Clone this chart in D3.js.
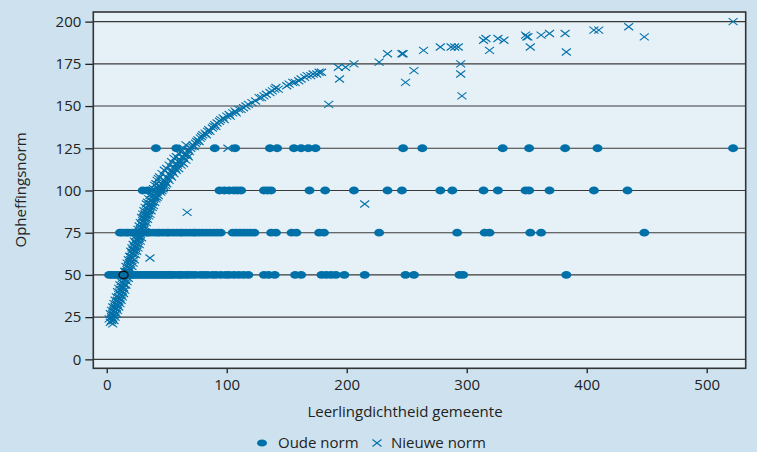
<!DOCTYPE html>
<html>
<head>
<meta charset="utf-8">
<script src="https://cdn.jsdelivr.net/npm/d3@7"></script>
<style>
  body { margin: 0; background: #cde2ee; }
  svg { display: block; font-family: "Open Sans", sans-serif; }
</style>
</head>
<body>
<div id="chart"></div>
<script>
// oude norm: leerlingdichtheid per opheffingsnorm-niveau
const oude50 = [2, 4, 6, 8, 10, 12, 16, 18, 20, 22, 24, 26, 28, 30, 32, 34, 36, 38, 40, 42, 44, 46, 48, 50, 52, 54, 56, 59, 61, 63, 66, 68, 71, 74, 78, 81, 84, 88, 91, 95, 99, 102, 106, 110, 114, 118, 131, 135, 140, 157, 162, 179, 183, 187, 191, 198, 215, 249, 256, 294, 297, 383];
const oude75 = [11, 13, 16, 18, 21, 23, 26, 29, 31, 34, 36, 39, 42, 44, 47, 50, 52, 55, 58, 61, 63, 66, 69, 72, 74, 77, 80, 83, 86, 89, 92, 95, 105, 108, 111, 114, 117, 120, 123, 137, 141, 154, 158, 177, 181, 227, 292, 315, 319, 353, 362, 448];
const oude100 = [30, 34, 45, 94, 98, 102, 106, 109, 112, 131, 134, 137, 169, 182, 206, 234, 246, 278, 288, 314, 326, 349, 352, 369, 406, 434];
const oude125 = [41, 58, 90, 107, 136, 142, 156, 162, 168, 174, 247, 263, 330, 352, 382, 409, 522];

// nieuwe norm: [leerlingdichtheid, opheffingsnorm]
const nieuw = [
  [3,22],[4,23],[4,25],[5,24],[5,27],[6,26],[6,29],[7,28],[7,31],[8,30],[8,33],[9,32],[9,35],[10,34],[10,37],
  [11,36],[11,39],[12,38],[12,41],[13,40],[13,43],[14,45],[14,42],[15,47],[15,44],[16,49],[16,52],[17,50],[17,53],[18,55],[18,52],
  [19,57],[19,54],[20,59],[20,61],[21,60],[21,63],[22,62],[22,65],[23,64],[23,67],[24,69],[24,66],[25,71],[25,68],[26,73],[26,70],[27,75],[27,72],[28,77],[28,74],
  [29,78],[29,80],[30,79],[30,82],[31,81],[31,84],[32,83],[32,86],[33,85],[34,87],[34,89],[35,88],[35,91],[36,90],[37,92],[37,94],[38,93],[39,95],[39,97],[40,96],[41,98],[41,100],[42,99],[43,101],[44,100],[44,103],
  [45,102],[46,104],[47,103],[48,106],[49,105],[50,108],[51,107],[52,110],[53,109],[54,112],[55,111],[56,114],[57,113],[58,116],[59,115],[60,117],[61,118],[62,117],[63,120],[64,119],[65,121],[66,122],[67,121],[68,124],[69,123],[70,125],[71,126],
  [72,127],[73,126],[74,128],[75,129],[76,130],[77,129],[78,131],[79,132],[80,133],[82,134],[83,133],[84,135],[85,136],[86,135],[88,137],[89,138],[90,139],[91,138],[92,140],
  [94,141],[95,142],[97,143],[98,142],[100,144],[102,145],[103,144],[105,146],[107,147],[108,146],[110,148],[112,148],[114,149],[116,150],[118,151],
  [121,152],[124,153],[127,155],[129,155],[131,156],[133,157],[136,158],[138,159],[140,160],[141,161],[143,160],[150,162],[152,163],[155,164],[157,164],[160,165],[162,166],[165,167],[167,168],[170,168],[172,169],[175,169],[177,170],[179,170],
  // rechterrand van de band
  [5,21],[6,23],[7,25],[8,27],[9,29],[10,31],[11,33],[12,35],[13,37],[14,39],[15,41],[16,44],[17,46],[18,48],[19,50],[20,53],[21,55],[22,57],[23,59],[24,62],[25,64],[26,66],[27,68],[28,70],[29,72],[30,75],[31,77],[32,79],[33,81],[34,83],[35,85],[36,86],[37,88],[38,90],[39,91],[40,93],[41,95],[42,96],[43,97],[45,99],[46,100],[47,101],[48,102],[49,103],[50,104],[52,106],[54,108],[56,110],[58,112],[60,113],[62,115],[64,116],[66,118],[68,120],
  // linkerrand van de band
  [2,24],[3,27],[4,29],[5,31],[6,33],[7,35],[8,37],[9,40],[10,42],[11,44],[12,46],[13,48],[14,50],[15,52],[16,55],[17,57],[18,59],[19,61],[20,64],[21,66],[22,68],[23,70],[24,73],[25,75],[26,77],[27,79],[28,81],[29,84],[30,86],[31,88],[32,90],[33,92],[34,93],[35,95],[36,97],[37,98],[38,100],[39,101],[40,103],[41,104],[42,106],[43,107],[44,108],[46,110],[48,112],[50,113],[52,115],[54,117],[56,119],[58,120],[60,122],[62,123],[64,125],[66,127],
  // losse punten
  [36,60],[67,87],[101,125],[185,151],[193,173],[199,173],[194,166],[206,175],[215,92],[227,176],[234,181],[246,181],[247,181],
  [249,164],[256,171],[264,183],[278,185],[287,185],[290,185],[293,185],[295,175],[295,169],[296,156],
  [314,189],[316,190],[319,183],[326,190],[331,189],[349,192],[351,191],[350,191],[353,185],[362,192],[369,193],
  [382,193],[383,182],[406,195],[410,195],[435,197],[448,191],[522,200]
];

const gemarkeerd = [[14, 50]];
const yTicks = [0, 25, 50, 75, 100, 125, 150, 175, 200];
const xTicks = [0, 100, 200, 300, 400, 500];

const W = 757, H = 452;
const color = "#0070a8";
const fontSize = 15;

const svg = d3.select("#chart").append("svg")
  .attr("width", W).attr("height", H);

svg.append("rect").attr("width", W).attr("height", H).attr("fill", "#cde2ee");

const pLeft = 93.3, pRight = 745.7, pTop = 12, pBottom = 368.3;
const x = d3.scaleLinear().domain([-11.2, 532.5]).range([pLeft, pRight]);
const y = d3.scaleLinear().domain([-5.3, 205.7]).range([pBottom, pTop]);

svg.append("rect")
  .attr("x", pLeft).attr("y", pTop)
  .attr("width", pRight - pLeft).attr("height", pBottom - pTop)
  .attr("fill", "#e5f0f7");

// rasterlijnen
svg.append("g").selectAll("line").data(yTicks).join("line")
  .attr("x1", pLeft).attr("x2", pRight)
  .attr("y1", d => y(d)).attr("y2", d => y(d))
  .attr("stroke", "#3a3a3a").attr("stroke-width", 1.1);

const yAxis = svg.append("g")
  .attr("transform", `translate(${pLeft},0)`)
  .call(d3.axisLeft(y).tickValues(yTicks).tickSize(8).tickPadding(4));
const xAxis = svg.append("g")
  .attr("transform", `translate(0,${pBottom})`)
  .call(d3.axisBottom(x).tickValues(xTicks).tickSize(5).tickPadding(6));

[yAxis, xAxis].forEach(g => {
  g.select(".domain").remove();
  g.selectAll("line").attr("stroke", "#222").attr("stroke-width", 1.3);
  g.selectAll("text").attr("fill", "#222").attr("font-size", fontSize)
    .attr("font-family", "'Open Sans', sans-serif");
});

// oude norm punten
const oude = [].concat(
  oude50.map(v => [v, 50]), oude75.map(v => [v, 75]),
  oude100.map(v => [v, 100]), oude125.map(v => [v, 125]));

const plot = svg.append("g");
plot.selectAll(".oud").data(oude).join("ellipse")
  .attr("class", "oud")
  .attr("cx", d => x(d[0])).attr("cy", d => y(d[1]))
  .attr("rx", 5).attr("ry", 3.9)
  .attr("fill", color);

const cross = "M-4.5,-3.5L4.5,3.5M-4.5,3.5L4.5,-3.5";
plot.selectAll(".nieuw").data(nieuw).join("path")
  .attr("class", "nieuw")
  .attr("transform", d => `translate(${x(d[0])},${y(d[1])})`)
  .attr("d", cross)
  .attr("fill", "none").attr("stroke", color).attr("stroke-width", 1.1);

plot.selectAll(".mark").data(gemarkeerd).join("ellipse")
  .attr("class", "mark")
  .attr("cx", d => x(d[0])).attr("cy", d => y(d[1]))
  .attr("rx", 4.5).attr("ry", 3.6)
  .attr("fill", "none").attr("stroke", "#111").attr("stroke-width", 1.5);

// kader
svg.append("rect")
  .attr("x", pLeft).attr("y", pTop)
  .attr("width", pRight - pLeft).attr("height", pBottom - pTop)
  .attr("fill", "none").attr("stroke", "#333").attr("stroke-width", 1.6);

svg.append("text")
  .attr("x", 405).attr("y", 417)
  .attr("text-anchor", "middle").attr("font-size", fontSize).attr("fill", "#222")
  .text("Leerlingdichtheid gemeente");

svg.append("text")
  .attr("transform", "translate(26,190) rotate(-90)")
  .attr("text-anchor", "middle").attr("font-size", fontSize).attr("fill", "#222")
  .text("Opheffingsnorm");

// legenda
const legend = svg.append("g");
legend.append("ellipse").attr("cx", 262).attr("cy", 443).attr("rx", 5).attr("ry", 3.6).attr("fill", color);
legend.append("text").attr("x", 278).attr("y", 448).attr("font-size", fontSize).attr("fill", "#222").text("Oude norm");
legend.append("path").attr("transform", "translate(377,443)").attr("d", cross)
  .attr("fill", "none").attr("stroke", color).attr("stroke-width", 1.1);
legend.append("text").attr("x", 391).attr("y", 448).attr("font-size", fontSize).attr("fill", "#222").text("Nieuwe norm");
</script>
</body>
</html>
